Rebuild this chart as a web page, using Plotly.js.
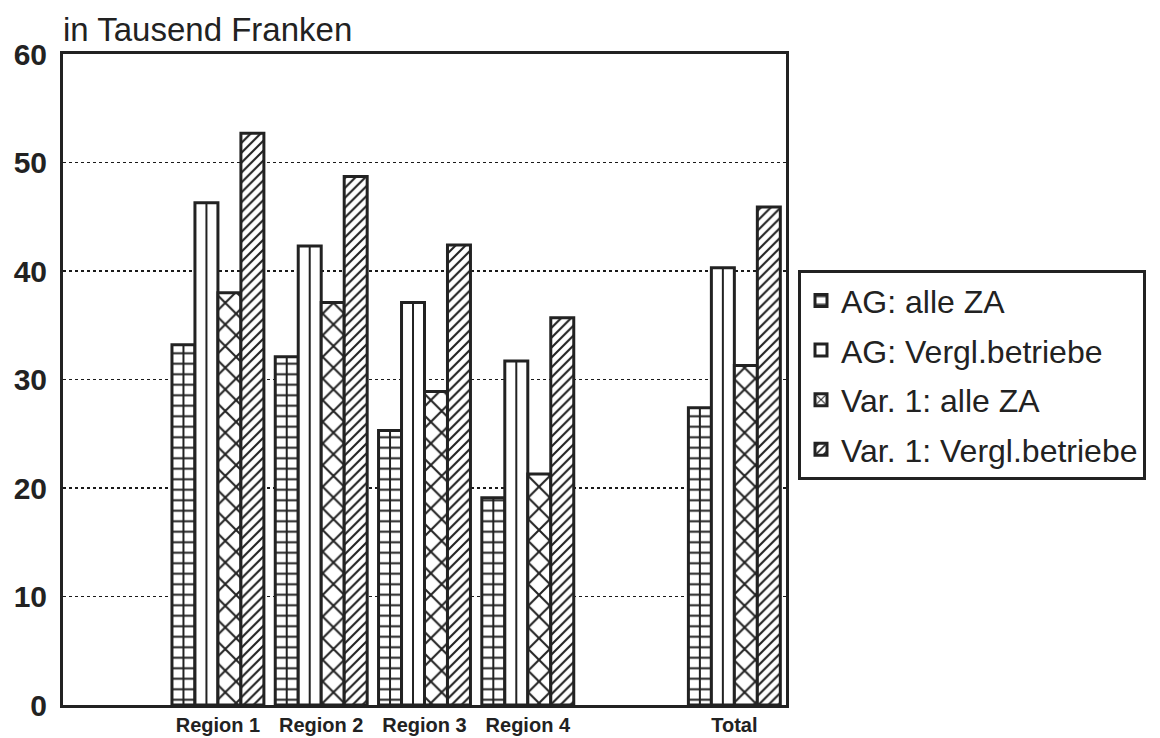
<!DOCTYPE html>
<html>
<head>
<meta charset="utf-8">
<script src="https://cdn.plot.ly/plotly-3.0.1.min.js"></script>
<style>
  html, body { margin: 0; padding: 0; background: #fff; }
  #chart { width: 1160px; height: 738px; }
</style>
</head>
<body>
<div id="chart"></div>
<script>
// Category slots (blank placeholders keep the gaps of the original chart)
const slots = [" ", "Region 1", "Region 2", "Region 3", "Region 4", "  ", "Total"];
const categories = ["Region 1", "Region 2", "Region 3", "Region 4", "Total"];

// Series values, in thousand francs
const agAlleZA   = [33.2, 32.1, 25.3, 19.1, 27.4];
const agVergl    = [46.3, 42.3, 37.1, 31.7, 40.3];
const var1AlleZA = [38.0, 37.1, 28.9, 21.3, 31.3];
const var1Vergl  = [52.7, 48.7, 42.4, 35.7, 45.9];

const seriesNames = ["AG: alle ZA", "AG: Vergl.betriebe", "Var. 1: alle ZA", "Var. 1: Vergl.betriebe"];
const seriesValues = [agAlleZA, agVergl, var1AlleZA, var1Vergl];
const yTicks = [0, 10, 20, 30, 40, 50, 60];

// hatch styles: horizontal rows (+ centre line) = grid, centre line only, cross hatch, diagonal
const patterns = [
  {shape: "-", size: 10.5, solidity: 0.19},
  {shape: "", size: 10, solidity: 0.2},
  {shape: "x", size: 15.3, solidity: 0.25},
  {shape: "/", size: 7, solidity: 0.3}
];
const centreLine = [true, true, false, false];

const ink = "#222222";

const traces = seriesValues.map((vals, i) => {
  const t = {
    type: "bar",
    name: seriesNames[i],
    legendgroup: "g" + i,
    x: categories,
    y: vals,
    marker: {
      color: "#ffffff",
      line: {color: ink, width: 3},
      pattern: Object.assign({fgcolor: ink, bgcolor: "#ffffff", fillmode: "replace"}, patterns[i])
    },
    hoverinfo: "skip"
  };
  if (centreLine[i]) {
    t.error_y = {
      type: "data", symmetric: false,
      array: vals.map(() => 0),
      arrayminus: vals,
      width: 0, thickness: 2, color: ink
    };
  }
  return t;
});

const font = "'Liberation Sans', Arial, sans-serif";

const layout = {
  width: 1160,
  height: 738,
  paper_bgcolor: "#ffffff",
  plot_bgcolor: "#ffffff",
  margin: {l: 63, r: 374, t: 54, b: 33, pad: 0},
  barmode: "group",
  bargap: 0.11,
  bargroupgap: 0,
  showlegend: true,
  title: {
    text: "in Tausend Franken",
    font: {family: font, size: 33, color: ink},
    xref: "paper", x: 0, xanchor: "left",
    yref: "container", y: 1 - 29 / 738, yanchor: "middle"
  },
  xaxis: {
    type: "category",
    categoryorder: "array",
    categoryarray: slots,
    range: [-0.5, 6.5],
    showline: true, mirror: true, linewidth: 3, linecolor: ink,
    showgrid: false, zeroline: false, ticks: "",
    tickfont: {family: font, size: 20, color: ink, weight: "bold"},
    automargin: false,
    fixedrange: true
  },
  yaxis: {
    range: [0, 60],
    tickvals: yTicks,
    ticktext: yTicks.map(String),
    showline: true, mirror: true, linewidth: 3, linecolor: ink,
    showgrid: true, gridcolor: "#1a1a1a", gridwidth: 1.8, griddash: "dot",
    zeroline: false, ticks: "",
    ticklabelstandoff: 7,
    tickfont: {family: font, size: 30, color: ink, weight: "bold"},
    automargin: false,
    fixedrange: true
  },
  legend: {
    x: 1.0166, xanchor: "left",
    y: 0.668, yanchor: "top",
    xref: "paper", yref: "paper",
    bordercolor: ink, borderwidth: 3,
    bgcolor: "#ffffff",
    font: {family: font, size: 32, color: ink},
    traceorder: "grouped",
    tracegroupgap: 5,
    itemwidth: 30,
    itemclick: false, itemdoubleclick: false
  }
};

Plotly.newPlot("chart", traces, layout, {displayModeBar: false, staticPlot: true});
</script>
</body>
</html>
